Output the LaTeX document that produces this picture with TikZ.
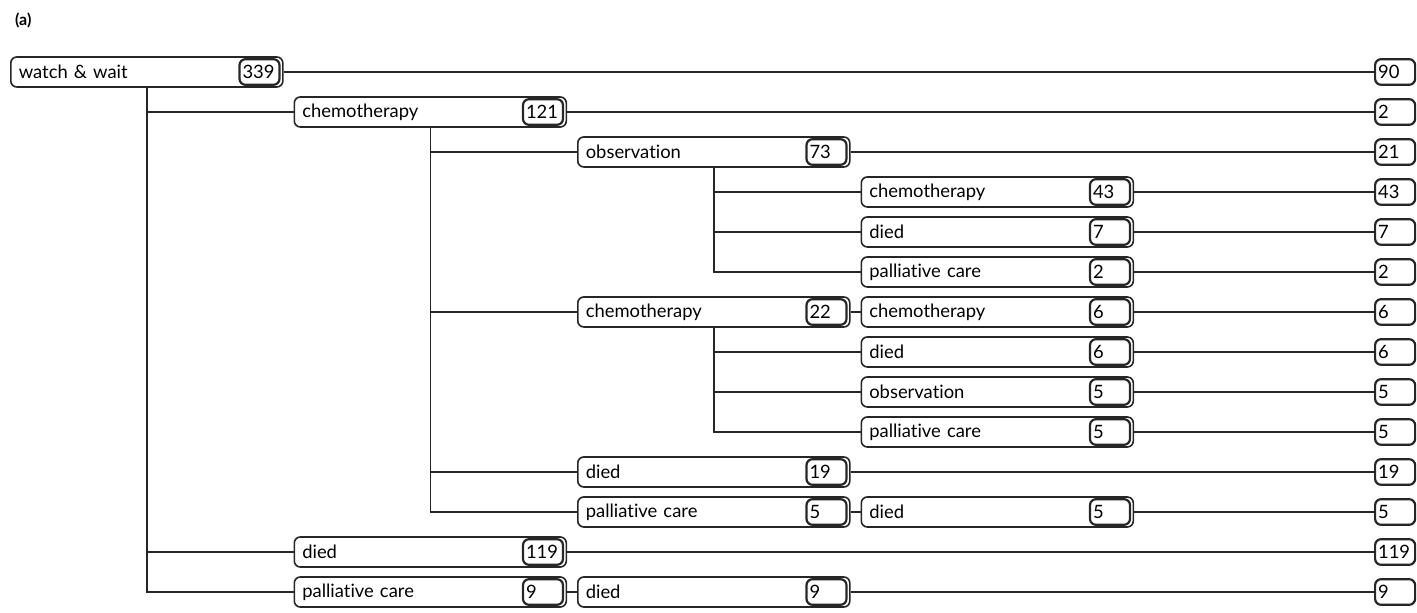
\documentclass[tikz,border=0pt]{standalone}
\usepackage{fontspec}
\setmainfont{Lato}[Ligatures={NoCommon,NoRequired,NoContextual}]
\usepackage{xcolor}
\usetikzlibrary{positioning}
\definecolor{ink}{HTML}{262626}

\tikzset{
  stage/.style={draw=ink, line width=0.8pt, rounded corners=3pt, anchor=west,
    text width=128pt, inner xsep=4pt, inner ysep=0pt, minimum height=15pt,
    align=left, font=\fontsize{9.2}{10}\selectfont},
  tally/.style={draw=ink, line width=1.1pt, rounded corners=3pt,
    text width=17pt, inner xsep=1.5pt, inner ysep=0pt, minimum height=12.8pt,
    align=left, font=\fontsize{9.2}{10}\selectfont},
  link/.style={draw=ink, line width=0.8pt}
}

\begin{document}
\begin{tikzpicture}[x=0.5pt,y=-0.5pt]
\useasboundingbox (0,0) rectangle (1417,613);
\node[anchor=west, font=\fontsize{8}{9}\selectfont\bfseries] (tag) at (8,20) {(a)};

% stages: name/level/row/label/count
\foreach \id/\lv/\rw/\txt/\num in {
  ww/0/0/watch \& wait/339,
  ch/1/1/chemotherapy/121,
  chob/2/2/observation/73,
  chobch/3/3/chemotherapy/43,
  chobdi/3/4/died/7,
  chobpc/3/5/palliative care/2,
  chch/2/6/chemotherapy/22,
  chchch/3/6/chemotherapy/6,
  chchdi/3/7/died/6,
  chchob/3/8/observation/5,
  chchpc/3/9/palliative care/5,
  chdi/2/10/died/19,
  chpc/2/11/palliative care/5,
  chpcdi/3/11/died/5,
  di/1/12/died/119,
  pc/1/13/palliative care/9,
  pcdi/2/13/died/9}
{
  \node[stage] (\id) at (10+283.5*\lv, 72+40*\rw) {\txt};
  \node[tally, anchor=east] (\id n) at ([xshift=-1.5pt]\id.east) {\num};
}

% final counts
\foreach \id/\rw/\num in {ww/0/90, ch/1/2, chob/2/21, chobch/3/43, chobdi/4/7,
  chobpc/5/2, chchch/6/6, chchdi/7/6, chchob/8/5, chchpc/9/5, chdi/10/19,
  chpcdi/11/5, di/12/119, pcdi/13/9}
{
  \node[tally, anchor=west] (t\id) at (1374, 72+40*\rw) {\num};
  \draw[link] (\id.east) -- (t\id.west);
}

% same-row successors
\draw[link] (chch.east) -- (chchch.west);
\draw[link] (chpc.east) -- (chpcdi.west);
\draw[link] (pc.east) -- (pcdi.west);

% branches
\draw[link] (ww.south) |- (pc.west);
\foreach \kid in {ch, di}
  \draw[link] (ww.south |- \kid.west) -- (\kid.west);
\draw[link] (ch.south) |- (chpc.west);
\foreach \kid in {chob, chch, chdi}
  \draw[link] (ch.south |- \kid.west) -- (\kid.west);
\draw[link] (chob.south) |- (chobpc.west);
\foreach \kid in {chobch, chobdi}
  \draw[link] (chob.south |- \kid.west) -- (\kid.west);
\draw[link] (chch.south) |- (chchpc.west);
\foreach \kid in {chchdi, chchob}
  \draw[link] (chch.south |- \kid.west) -- (\kid.west);
\end{tikzpicture}
\end{document}
